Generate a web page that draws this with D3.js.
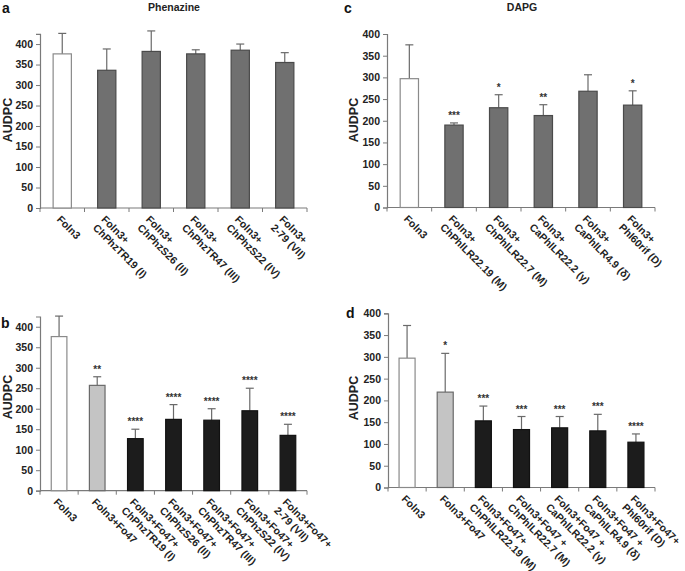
<!DOCTYPE html>
<html><head><meta charset="utf-8">
<script src="https://cdn.jsdelivr.net/npm/d3@7"></script>
<style>
body{margin:0;background:#fff;}
svg{display:block;font-family:"Liberation Sans",Arial,sans-serif;}
</style></head>
<body>
<svg id="chart" width="685" height="571"></svg>
<script>
// ---------- DATA ----------
const catsA = ["Foln3", "Foln3+\nChPhzTR19 (I)", "Foln3+\nChPhzS26 (II)", "Foln3+\nChPhzTR47 (III)", "Foln3+\nChPhzS22 (IV)", "Foln3+\n2-79 (VII)"];
const valsA = [376, 336, 382, 376, 385, 355];
const errA  = [50, 52, 50, 10, 15, 24];
const starsA = ["", "", "", "", "", ""];
const kindA = ["control", "mid", "mid", "mid", "mid", "mid"];

const catsB = ["Foln3", "Foln3+Fo47", "Foln3+Fo47+\nChPhzTR19 (I)", "Foln3+Fo47+\nChPhzS26 (II)", "Foln3+Fo47+\nChPhzTR47 (III)", "Foln3+Fo47+\nChPhzS22 (IV)", "Foln3+Fo47+\n2-79 (VII)"];
const valsB = [376, 257, 127, 174, 172, 195, 135];
const errB  = [50, 21, 23, 36, 28, 55, 27];
const starsB = ["", "**", "****", "****", "****", "****", "****"];
const kindB = ["control", "fo47", "combo", "combo", "combo", "combo", "combo"];

const catsC = ["Foln3", "Foln3+\nChPhlLR22.19 (M)", "Foln3+\nChPhlLR22.7 (M)", "Foln3+\nCaPhlLR22.2 (γ)", "Foln3+\nCaPhlLR4.9 (δ)", "Foln3+\nPhl60rif (D)"];
const valsC = [297, 190, 230, 212, 268, 236];
const errC  = [78, 5, 30, 25, 38, 33];
const starsC = ["", "***", "*", "**", "", "*"];
const kindC = ["control", "mid", "mid", "mid", "mid", "mid"];

const catsD = ["Foln3", "Foln3+Fo47", "Foln3+Fo47+\nChPhlLR22.19 (M)", "Foln3+Fo47 +\nChPhlLR22.7 (M)", "Foln3+Fo47 +\nCaPhlLR22.2 (γ)", "Foln3+Fo47 +\nCaPhlLR4.9 (δ)", "Foln3+Fo47+\nPhl60rif (D)"];
const valsD = [297, 219, 153, 133, 137, 130, 104];
const errD  = [75, 89, 34, 30, 26, 38, 19];
const starsD = ["", "*", "***", "***", "***", "***", "****"];
const kindD = ["control", "fo47", "combo", "combo", "combo", "combo", "combo"];

const ticks425 = [0, 50, 100, 150, 200, 250, 300, 350, 400];
const ticks400 = [0, 50, 100, 150, 200, 250, 300, 350, 400];

// ---------- STYLE ----------
const fills   = {control: "#ffffff", mid: "#707070", fo47: "#c4c4c4", combo: "#1c1c1c"};
const strokes = {control: "#8a8a8a", mid: "#4a4a4a", fo47: "#6a6a6a", combo: "#111111"};
const axisCol = "#7a7a7a";

const svg = d3.select("#chart");

function panel(o) {
  const g = svg.append("g");
  const x = d3.scaleBand().domain(o.cats).range([o.x0, o.x1]).padding(0);
  const y = d3.scaleLinear().domain([0, o.ymax]).range([o.yb, o.yt]);
  const step = x.step();
  const bw = step * o.bwr;

  // y axis
  const ya = d3.axisLeft(y).tickValues(o.ticks).tickSize(4).tickPadding(3);
  const yg = g.append("g").attr("transform", `translate(${o.x0},0)`).call(ya);
  yg.select(".domain").attr("stroke", axisCol).attr("stroke-width", 1.2);
  yg.selectAll(".tick line").attr("stroke", axisCol);
  yg.selectAll(".tick text").attr("font-size", 10.5).attr("font-weight", "bold").attr("fill", "#222");

  // x axis line + boundary ticks
  g.append("line").attr("x1", o.x0).attr("x2", o.x1).attr("y1", o.yb).attr("y2", o.yb)
    .attr("stroke", axisCol).attr("stroke-width", 1.2);
  d3.range(o.cats.length + 1).forEach(i => {
    const xx = o.x0 + i * step;
    g.append("line").attr("x1", xx).attr("x2", xx).attr("y1", o.yb).attr("y2", o.yb + 4)
      .attr("stroke", axisCol);
  });

  // error bars (upper only)
  o.cats.forEach((c, i) => {
    const cx = x(c) + step / 2;
    const yTop = y(o.vals[i] + o.errs[i]);
    g.append("line").attr("x1", cx).attr("x2", cx).attr("y1", y(o.vals[i])).attr("y2", yTop)
      .attr("stroke", "#6a6a6a").attr("stroke-width", 1.2);
    g.append("line").attr("x1", cx - 4).attr("x2", cx + 4).attr("y1", yTop).attr("y2", yTop)
      .attr("stroke", "#6a6a6a").attr("stroke-width", 1.2);
    if (o.stars[i]) {
      g.append("text").attr("x", cx).attr("y", yTop - 4).attr("text-anchor", "middle")
        .attr("font-size", 10).attr("font-weight", "bold").attr("fill", "#333").text(o.stars[i]);
    }
  });

  // bars
  g.selectAll("rect.bar").data(o.cats).join("rect").attr("class", "bar")
    .attr("x", c => x(c) + (step - bw) / 2)
    .attr("width", bw)
    .attr("y", (c, i) => y(o.vals[i]))
    .attr("height", (c, i) => y(0) - y(o.vals[i]))
    .attr("fill", (c, i) => fills[o.kind[i]])
    .attr("stroke", (c, i) => strokes[o.kind[i]])
    .attr("stroke-width", 1.2);

  // x labels
  o.cats.forEach(c => {
    const cx = x(c) + step / 2;
    const t = g.append("text")
      .attr("transform", `translate(${cx - 6},${o.yb + 12}) rotate(45)`)
      .attr("font-size", 10.5).attr("font-weight", "bold").attr("fill", "#222");
    c.split("\n").forEach((line, k) => {
      t.append("tspan").attr("x", 0).attr("dy", k === 0 ? 0 : 12).text(line);
    });
  });

  // y label
  g.append("text").attr("transform", `translate(${o.ylx},${o.yly}) rotate(-90)`)
    .attr("text-anchor", "middle").attr("font-size", 12.5).attr("font-weight", "bold")
    .attr("fill", "#222").text("AUDPC");

  // panel letter
  g.append("text").attr("x", o.lx).attr("y", o.ly).attr("font-size", 14).attr("font-weight", "bold")
    .attr("fill", "#111").text(o.letter);

  if (o.title) {
    g.append("text").attr("x", o.tx).attr("y", 11).attr("text-anchor", "middle")
      .attr("font-size", 10.5).attr("font-weight", "bold").attr("fill", "#222").text(o.title);
  }
}

panel({cats: catsA, vals: valsA, errs: errA, stars: starsA, kind: kindA, ticks: ticks425,
  x0: 40, x1: 307, yb: 208, yt: 33.8, ymax: 425, bwr: 0.41,
  ylx: 12, yly: 120, letter: "a", lx: 2, ly: 13, title: "Phenazine", tx: 174});
panel({cats: catsC, vals: valsC, errs: errC, stars: starsC, kind: kindC, ticks: ticks400,
  x0: 387, x1: 655, yb: 207.5, yt: 34, ymax: 400, bwr: 0.41,
  ylx: 358, yly: 120, letter: "c", lx: 344, ly: 13, title: "DAPG", tx: 522});
panel({cats: catsB, vals: valsB, errs: errB, stars: starsB, kind: kindB, ticks: ticks425,
  x0: 40, x1: 307, yb: 490.7, yt: 316.5, ymax: 425, bwr: 0.41,
  ylx: 12, yly: 397, letter: "b", lx: 1, ly: 328});
panel({cats: catsD, vals: valsD, errs: errD, stars: starsD, kind: kindD, ticks: ticks400,
  x0: 388, x1: 655, yb: 487.5, yt: 313.3, ymax: 400, bwr: 0.42,
  ylx: 358, yly: 398, letter: "d", lx: 346, ly: 318});
</script>
</body></html>
